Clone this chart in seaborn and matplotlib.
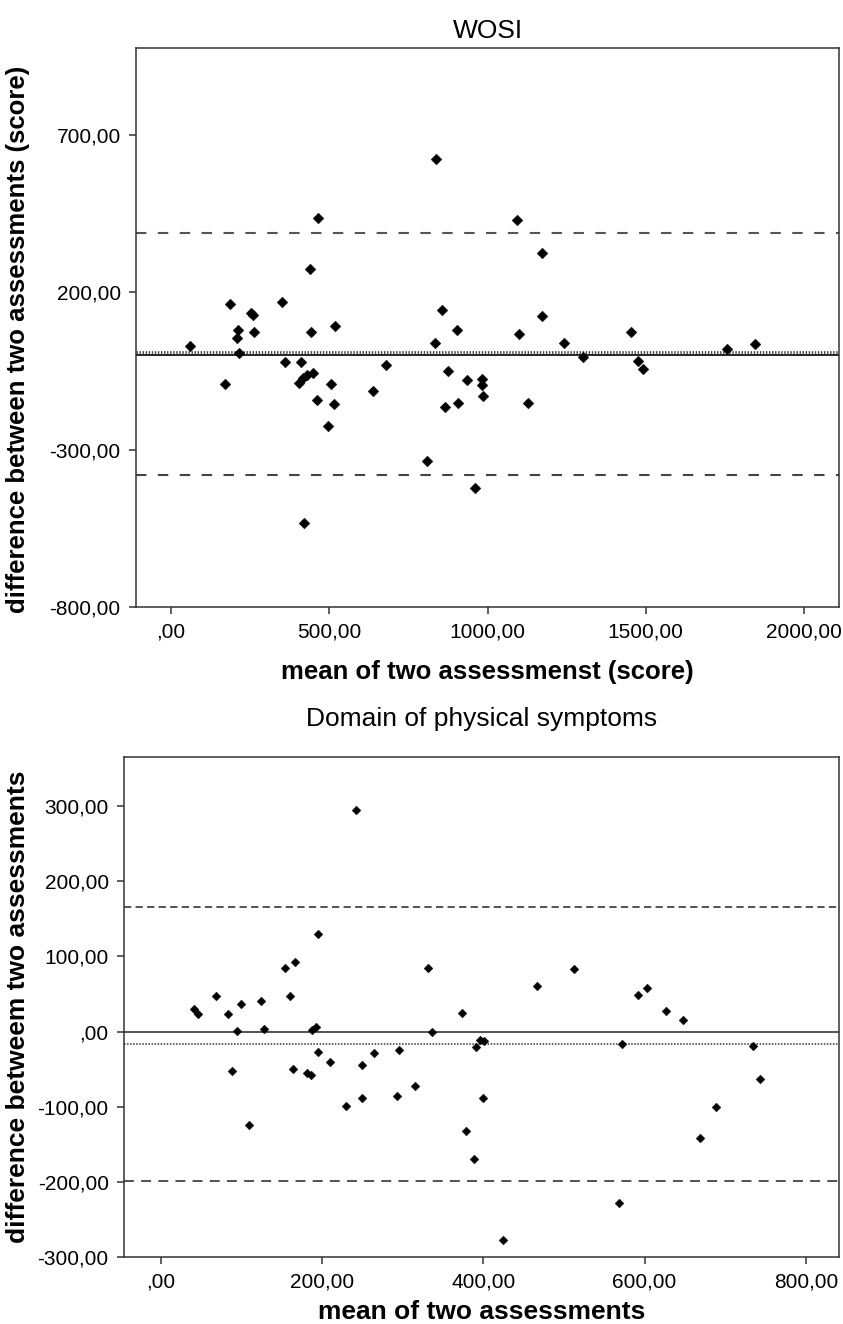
import matplotlib
matplotlib.use("Agg")
import pandas as pd
import seaborn as sns
import matplotlib.pyplot as plt
from matplotlib.ticker import FuncFormatter, FixedLocator

# --- WOSI panel (mean of two assessments vs difference) ---
wosi_mean = [60, 187, 210, 208, 215, 252, 259, 263, 170, 351, 438, 465, 443, 518,
             360, 412, 447, 430, 417, 404, 505, 460, 514, 680, 638, 837, 857, 835,
             904, 874, 936, 866, 906, 983, 983, 985, 497, 809, 959, 421, 1093, 1171,
             1171, 1100, 1242, 1303, 1455, 1475, 1490, 1757, 1845, 1128]
wosi_diff = [29, 162, 81, 54, 9, 136, 127, 74, -91, 169, 273, 435, 74, 93,
             -21, -21, -57, -63, -73, -86, -92, -142, -155, -29, -112, 623, 144, 39,
             80, -49, -77, -162, -150, -75, -94, -130, -225, -335, -421, -532, 429, 324,
             125, 69, 41, -4, 74, -17, -44, 20, 35, -152]
wosi_lines = [0, 10, 389, -378]          # zero, bias, upper LoA, lower LoA

# --- Domain of physical symptoms panel ---
phys_mean = [41, 46, 69, 83, 88, 94, 100, 110, 124, 128, 154, 160, 164, 167, 182,
             186, 188, 192, 195, 195, 210, 230, 242, 249, 249, 264, 293, 296, 315,
             331, 336, 373, 378, 388, 391, 396, 401, 399, 425, 467, 513, 568, 572,
             592, 603, 627, 647, 669, 688, 734, 743]
phys_diff = [30, 24, 47, 24, -52, 1, 36, -125, 40, 4, 85, 47, -50, 92, -55,
             -58, 2, 6, 130, -27, -40, -99, 295, -45, -88, -28, -86, -24, -73,
             85, 0, 25, -132, -170, -20, -11, -12, -88, -278, 60, 83, -228, -16,
             49, 58, 28, 16, -142, -100, -19, -63]
phys_lines = [0, -16, 166, -199]

sns.set_style("ticks")
plt.rcParams['font.family'] = ['Liberation Sans', 'DejaVu Sans']
plt.rcParams['text.color'] = 'black'
plt.rcParams['axes.labelcolor'] = 'black'
plt.rcParams['xtick.color'] = 'black'
plt.rcParams['ytick.color'] = 'black'


def comma_fmt(v, pos):
    s = f"{v:.2f}".replace(".", ",")
    if s.startswith("0,"):
        s = s[1:]
    return s


def style_axes(ax):
    for sp in ax.spines.values():
        sp.set_visible(True)
        sp.set_color('#333333')
        sp.set_linewidth(1.1)
    ax.tick_params(axis='both', length=5, width=1.1, color='#333333',
                   labelcolor='black', labelsize=15, pad=6)
    ax.xaxis.set_major_formatter(FuncFormatter(comma_fmt))
    ax.yaxis.set_major_formatter(FuncFormatter(comma_fmt))


fig = plt.figure(figsize=(8.43, 13.24), dpi=100)

# top panel
ax1 = fig.add_axes([136 / 843, 1 - 607.5 / 1324, 703 / 843, 559.5 / 1324])
df1 = pd.DataFrame({'mean': wosi_mean, 'diff': wosi_diff})
ax1.axhline(wosi_lines[0], color='black', lw=1.2, zorder=1)
ax1.axhline(wosi_lines[1], color='#444444', lw=2.0, ls=(0, (0.5, 0.6)), zorder=1)
ax1.axhline(wosi_lines[2], color='#555555', lw=1.5, ls=(0, (5, 5.5)), zorder=1)
ax1.axhline(wosi_lines[3], color='#444444', lw=1.5, ls=(0, (5, 5.5)), zorder=1)
sns.scatterplot(data=df1, x='mean', y='diff', marker='D', color='black',
                s=30, edgecolor='black', linewidth=0.3, ax=ax1, zorder=3)
ax1.set_xlim(-111, 2111)
ax1.set_ylim(-800, 976)
ax1.xaxis.set_major_locator(FixedLocator([0, 500, 1000, 1500, 2000]))
ax1.yaxis.set_major_locator(FixedLocator([-800, -300, 200, 700]))
style_axes(ax1)
ax1.set_title('WOSI', fontsize=19, pad=7)
ax1.set_xlabel('mean of two assessmenst (score)', fontsize=18.5,
               fontweight='bold', labelpad=13)
ax1.set_ylabel('difference between two assessments (score)', fontsize=18.5,
               fontweight='bold', va='center')
ax1.yaxis.set_label_coords(-0.168, 0.48)

# bottom panel
ax2 = fig.add_axes([124 / 843, 1 - 1257 / 1324, 715 / 843, 500.5 / 1324])
df2 = pd.DataFrame({'mean': phys_mean, 'diff': phys_diff})
ax2.axhline(phys_lines[0], color='#222222', lw=1.1, zorder=1)
ax2.axhline(phys_lines[1], color='#333333', lw=1.1, ls=(0, (1, 1)), zorder=1)
ax2.axhline(phys_lines[2], color='#444444', lw=1.3, ls=(0, (4, 2.4)), zorder=1)
ax2.axhline(phys_lines[3], color='#444444', lw=1.3, ls=(0, (5.5, 4)), zorder=1)
sns.scatterplot(data=df2, x='mean', y='diff', marker='D', color='black',
                s=20, edgecolor='black', linewidth=0.3, ax=ax2, zorder=3)
ax2.set_xlim(-45.5, 841)
ax2.set_ylim(-300, 366)
ax2.xaxis.set_major_locator(FixedLocator([0, 200, 400, 600, 800]))
ax2.yaxis.set_major_locator(FixedLocator([-300, -200, -100, 0, 100, 200, 300]))
style_axes(ax2)
ax2.set_title('Domain of physical symptoms', fontsize=19, pad=22)
ax2.set_xlabel('mean of two assessments', fontsize=19, fontweight='bold',
               labelpad=6)
ax2.set_ylabel('difference betweem two assessments', fontsize=19,
               fontweight='bold', va='center')
ax2.yaxis.set_label_coords(-(124 - 18) / 715, 0.5)

fig.savefig('out.png', dpi=100)
